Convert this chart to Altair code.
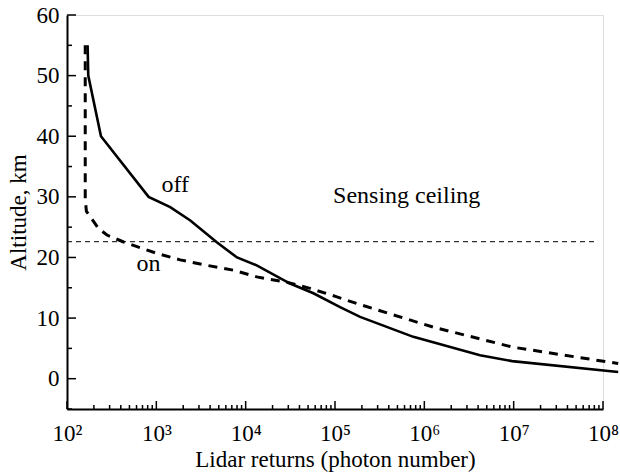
import altair as alt
import pandas as pd

FONT = "Liberation Serif"

# ---- data ----
off_x = [170, 173, 240, 820, 1430, 2400, 4750, 8000, 13300, 31400, 57300,
         114000, 191000, 753000, 4.2e6, 9.6e6, 1.48e8]
off_alt = [55, 50, 40, 30, 28.3, 26.1, 22.5, 20.0, 18.7, 15.7, 14.1,
           11.8, 10.2, 6.9, 3.85, 2.9, 1.1]

on_x = [160, 160, 165, 225, 280, 430, 555, 1000, 1850, 3670, 7300, 13300,
        28900, 52600, 105000, 175000, 1.26e6, 9.8e6, 1.48e8]
on_alt = [55, 29.5, 27.6, 24.8, 23.7, 22.55, 22.0, 20.7, 19.6, 18.7, 17.9,
          16.8, 15.9, 14.9, 13.5, 12.4, 8.5, 5.2, 2.5]

ceiling_x = [100, 8.2e7]
ceiling_alt = [22.6, 22.6]

ann_text = ["off", "on", "Sensing ceiling"]
ann_x = [1626, 817, 635000]
ann_alt = [30.8, 17.8, 29.0]

x_major = [1e2, 1e3, 1e4, 1e5, 1e6, 1e7, 1e8]
x_labels = ["10²", "10³", "10⁴", "10⁵", "10⁶", "10⁷", "10⁸"]
x_minor = [k * 10 ** n for n in range(2, 8) for k in range(2, 10)]
y_major = [0, 10, 20, 30, 40, 50, 60]
y_minor = [-5, 5, 15, 25, 35, 45, 55]

W, H = 536, 394

label_arr = "[" + ",".join("'" + s + "'" for s in x_labels) + "]"
x_label_expr = label_arr + "[round(log(datum.value)/LN10) - 2]"

xscale = alt.Scale(type="log", domain=[1e2, 1e8])
yscale = alt.Scale(domain=[-5, 60])

xaxis = alt.Axis(values=x_major, labelExpr=x_label_expr, ticks=False, grid=False,
                 domainColor="black", domainWidth=2, labelFont=FONT, labelFontSize=23,
                 labelColor="black", labelPadding=13, title="Lidar returns (photon number)",
                 titleFont=FONT, titleFontSize=23, titleFontWeight="normal",
                 titleColor="black", titlePadding=3, labelFlush=False)
yaxis = alt.Axis(values=y_major, ticks=False, grid=False, domainColor="black",
                 domainWidth=2, labelFont=FONT, labelFontSize=23, labelColor="black",
                 labelPadding=8, title="Altitude, km", titleFont=FONT, titleFontSize=23,
                 titleFontWeight="normal", titleColor="black", titlePadding=6)

df_off = pd.DataFrame({"x": off_x, "alt": off_alt, "i": range(len(off_x))})
df_on = pd.DataFrame({"x": on_x, "alt": on_alt, "i": range(len(on_x))})
df_ceil = pd.DataFrame({"x": ceiling_x, "alt": ceiling_alt, "i": [0, 1]})
df_ann = pd.DataFrame({"t": ann_text, "x": ann_x, "alt": ann_alt})

X = alt.X("x:Q", scale=xscale, axis=xaxis)
Y = alt.Y("alt:Q", scale=yscale, axis=yaxis)

off_line = alt.Chart(df_off).mark_line(color="black", strokeWidth=2.6, clip=False).encode(
    x=X, y=Y, order="i:Q")
on_line = alt.Chart(df_on).mark_line(color="black", strokeWidth=3, strokeDash=[9, 7],
                                     clip=False).encode(
    x=alt.X("x:Q", scale=xscale), y=alt.Y("alt:Q", scale=yscale), order="i:Q")
ceil_line = alt.Chart(df_ceil).mark_line(color="black", strokeWidth=1, strokeDash=[5, 4]).encode(
    x=alt.X("x:Q", scale=xscale), y=alt.Y("alt:Q", scale=yscale), order="i:Q")
ann = alt.Chart(df_ann).mark_text(font=FONT, fontSize=24, color="black", align="center",
                                  baseline="alphabetic").encode(
    x=alt.X("x:Q", scale=xscale), y=alt.Y("alt:Q", scale=yscale), text="t:N")

xmaj = alt.Chart(pd.DataFrame({"x": x_major})).mark_rule(color="black", strokeWidth=1.5).encode(
    x=alt.X("x:Q", scale=xscale), y=alt.value(H), y2=alt.value(H - 8))
xmin = alt.Chart(pd.DataFrame({"x": x_minor})).mark_rule(color="black", strokeWidth=1.5).encode(
    x=alt.X("x:Q", scale=xscale), y=alt.value(H), y2=alt.value(H - 4))
ymaj = alt.Chart(pd.DataFrame({"alt": y_major})).mark_rule(color="black", strokeWidth=1.5).encode(
    y=alt.Y("alt:Q", scale=yscale), x=alt.value(0), x2=alt.value(9))
ymin = alt.Chart(pd.DataFrame({"alt": y_minor})).mark_rule(color="black", strokeWidth=1.5).encode(
    y=alt.Y("alt:Q", scale=yscale), x=alt.value(0), x2=alt.value(5))

chart = alt.layer(off_line, on_line, ceil_line, ann, xmaj, xmin, ymaj, ymin).properties(
    width=W, height=H,
    autosize=alt.AutoSizeParams(type="none"),
    padding={"left": 67, "top": 15, "right": 17, "bottom": 63},
).configure_view(stroke=None).configure(background="white")

chart.save("out.html", embed_options={"renderer": "svg", "actions": False})
